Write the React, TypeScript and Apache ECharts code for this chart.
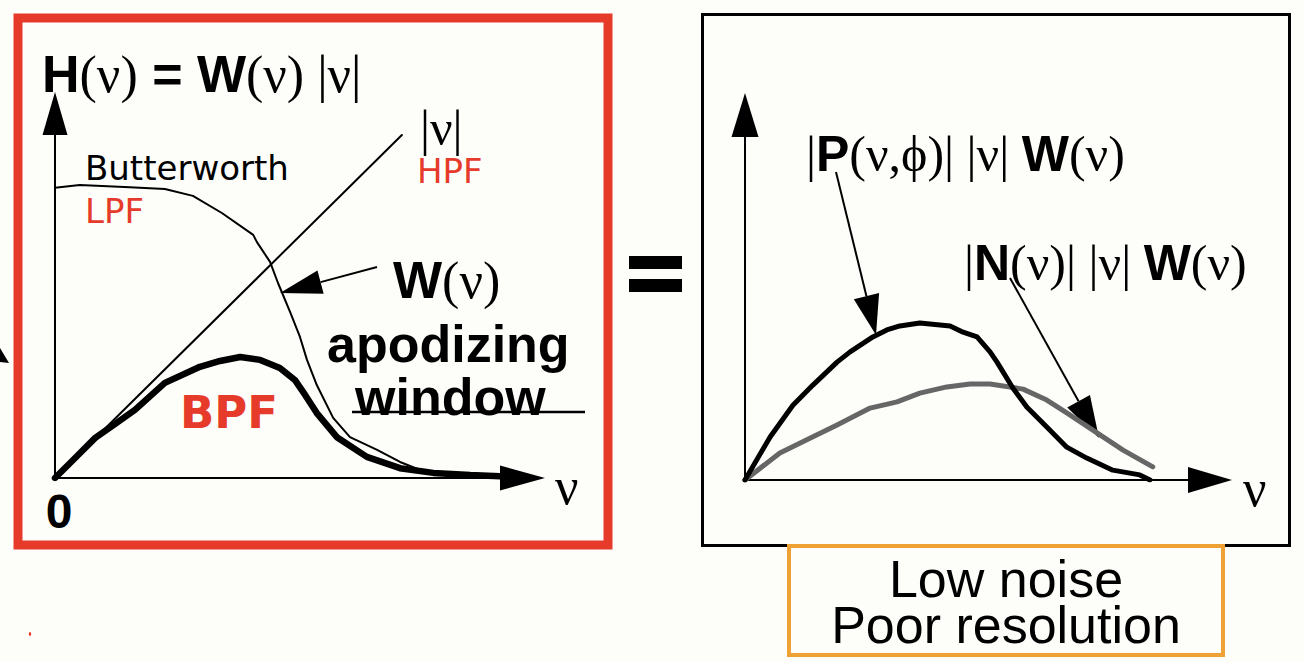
import React, { useEffect, useRef } from 'react';
import * as echarts from 'echarts';

// ---- Left panel: H(ν) = W(ν)|ν|  (units: ν 0..10, amplitude 0..10)
const hpfNu = [0, 7.42];
const hpfAmp = [0, 9.41];
const lpfNu = [0, 0.53, 1.6, 2.35, 2.95, 3.57, 4.24, 4.32, 4.6, 4.77, 5.03, 5.24, 5.39, 5.6, 5.95, 6.31, 6.89, 7.38, 7.81, 8.45, 9.09];
const lpfAmp = [7.96, 8.04, 7.98, 7.93, 7.74, 7.27, 6.67, 6.47, 5.93, 5.35, 4.55, 3.87, 3.24, 2.55, 1.65, 1.12, 0.77, 0.44, 0.22, 0.08, 0.03];
const bpfNu = [0, 0.43, 0.86, 1.28, 1.71, 2.35, 3.1, 3.53, 3.96, 4.39, 4.81, 5.13, 5.35, 5.6, 6.03, 6.67, 7.38, 8.09, 8.88, 9.52];
const bpfAmp = [0, 0.55, 1.1, 1.48, 1.87, 2.61, 3.05, 3.21, 3.32, 3.24, 3.02, 2.69, 2.28, 1.78, 1.12, 0.58, 0.27, 0.14, 0.08, 0.05];

// ---- Right panel: projection and noise spectra
const projNu = [0, 0.54, 1.03, 1.46, 1.98, 2.26, 2.75, 3.05, 3.33, 3.76, 4.41, 4.69, 4.99, 5.27, 5.42, 5.76, 6.06, 6.49, 6.92, 7.35, 7.91, 8.49, 8.71];
const projAmp = [0, 1.18, 2.05, 2.6, 3.23, 3.51, 3.92, 4.11, 4.22, 4.3, 4.22, 4.05, 3.92, 3.51, 3.23, 2.52, 2.0, 1.45, 0.9, 0.6, 0.27, 0.14, 0.0];
const noiseNu = [0, 0.75, 1.33, 1.98, 2.69, 3.27, 3.76, 4.34, 4.84, 5.27, 5.98, 6.49, 6.92, 7.57, 8.13, 8.77];
const noiseAmp = [0, 0.74, 1.1, 1.51, 1.97, 2.14, 2.38, 2.55, 2.63, 2.63, 2.49, 2.19, 1.84, 1.29, 0.82, 0.36];

const RED = '#e63b2a';
const ORANGE = '#f0a133';
const SANS = 'Liberation Sans, Arial, sans-serif';
const SERIF = 'Liberation Serif, Times New Roman, serif';
const DEJA = 'DejaVu Sans, Verdana, sans-serif';

const zip = (xs: number[], ys: number[]) => xs.map((x, i) => [x, ys[i]]);

function axisPair(gridIndex: number, xArrow: number[], yArrow: number[]) {
  const common = {
    type: 'value' as const,
    min: 0,
    max: 10,
    gridIndex,
    axisTick: { show: false },
    axisLabel: { show: false },
    splitLine: { show: false },
  };
  return {
    x: { ...common, axisLine: { show: true, symbol: ['none', 'triangle'], symbolSize: xArrow, lineStyle: { color: '#000', width: 2 } } },
    y: { ...common, axisLine: { show: true, symbol: ['none', 'triangle'], symbolSize: yArrow, lineStyle: { color: '#000', width: 2 } } },
  };
}

function lineSeries(name: string, data: number[][], idx: number, color: string, width: number) {
  return {
    name,
    type: 'line',
    xAxisIndex: idx,
    yAxisIndex: idx,
    data,
    showSymbol: false,
    symbol: 'none',
    smooth: false,
    lineStyle: { color, width, cap: 'round', join: 'round' },
    silent: true,
  };
}

function arrow(x0: number, y0: number, tx: number, ty: number, len: number, half: number) {
  const dx = tx - x0, dy = ty - y0;
  const L = Math.hypot(dx, dy);
  const ux = dx / L, uy = dy / L;
  const bx = tx - ux * len, by = ty - uy * len;
  const px = -uy * half, py = ux * half;
  return [
    { type: 'line', shape: { x1: x0, y1: y0, x2: bx, y2: by }, style: { stroke: '#000', lineWidth: 2 } },
    { type: 'polygon', shape: { points: [[tx, ty], [bx + px, by + py], [bx - px, by - py]] }, style: { fill: '#000' } },
  ];
}

function txt(x: number, y: number, text: string, rich: any, extra: any = {}) {
  return { type: 'text', x, y, z: 50, style: { text, rich, verticalAlign: 'middle', align: 'left', ...extra } };
}

export default function App() {
  const ref = useRef<HTMLDivElement>(null);
  useEffect(() => {
    if (!ref.current) return;
    const chart = echarts.init(ref.current, null, { renderer: 'svg' });
    const left = axisPair(0, [25, 45], [25, 43]);
    const right = axisPair(1, [26, 44], [27, 44]);

    const mathRich = (fs: number) => ({
      b: { fontFamily: SANS, fontWeight: 'bold', fontSize: fs, fill: '#000' },
      s: { fontFamily: SERIF, fontSize: fs, fill: '#000' },
    });

    const graphic: any[] = [
      // frames
      { type: 'rect', shape: { x: 18, y: 18, width: 590, height: 527 }, style: { fill: 'none', stroke: RED, lineWidth: 9 }, z: 1 },
      { type: 'rect', shape: { x: 702.5, y: 14.5, width: 587, height: 531 }, style: { fill: 'none', stroke: '#000', lineWidth: 3 }, z: 1 },
      { type: 'rect', shape: { x: 789, y: 546, width: 434, height: 109 }, style: { fill: '#fdfdfa', stroke: ORANGE, lineWidth: 4 }, z: 2 },
      // equals sign
      { type: 'rect', shape: { x: 629, y: 256, width: 53, height: 13 }, style: { fill: '#000' } },
      { type: 'rect', shape: { x: 629, y: 279, width: 53, height: 13 }, style: { fill: '#000' } },
      // stray fragments on the left margin
      { type: 'polygon', shape: { points: [[0, 348], [9, 363], [0, 362]] }, style: { fill: '#000' } },
      { type: 'ellipse', shape: { cx: 30, cy: 634, rx: 1.2, ry: 2 }, style: { fill: RED } },
      // strike line under "window"
      { type: 'line', shape: { x1: 352, y1: 412, x2: 585, y2: 412 }, style: { stroke: '#000', lineWidth: 2.5 } },
      // annotation arrows
      ...arrow(377, 267, 280, 293, 42, 12),
      ...arrow(836, 172, 876, 335, 40, 13),
      ...arrow(1010, 278, 1099, 438, 42, 13),
      // texts
      txt(42, 74, '{b|H}{s|(ν)}{b| = W}{s|(ν) |ν|}', mathRich(52)),
      txt(420, 128, '{s||ν|}', mathRich(50)),
      txt(417, 171, 'HPF', null, { fontFamily: DEJA, fontSize: 34, fill: RED }),
      txt(85, 168, 'Butterworth', null, { fontFamily: DEJA, fontSize: 34, fill: '#000' }),
      txt(85, 211, 'LPF', null, { fontFamily: DEJA, fontSize: 34, fill: RED }),
      txt(393, 280, '{b|W}{s|(ν)}', mathRich(52)),
      txt(327, 344, 'apodizing', null, { fontFamily: SANS, fontWeight: 'bold', fontSize: 52, fill: '#000' }),
      txt(355, 397, 'window', null, { fontFamily: SANS, fontWeight: 'bold', fontSize: 52, fill: '#000' }),
      txt(180, 412, 'BPF', null, { fontFamily: DEJA, fontWeight: 'bold', fontSize: 45, fill: RED }),
      txt(59, 511, '0', null, { fontFamily: SANS, fontWeight: 'bold', fontSize: 48, fill: '#000', align: 'center' }),
      txt(555, 486, 'ν', null, { fontFamily: SERIF, fontSize: 52, fill: '#000' }),
      txt(1243, 488, 'ν', null, { fontFamily: SERIF, fontSize: 52, fill: '#000' }),
      txt(806, 154, '{s||}{b|P}{s|(ν,ϕ)| |ν| }{b|W}{s|(ν)}', mathRich(50)),
      txt(964, 263, '{s||}{b|N}{s|(ν)| |ν| }{b|W}{s|(ν)}', mathRich(50)),
      txt(1006, 602, 'Low noise\nPoor resolution', null, { fontFamily: SANS, fontSize: 52, lineHeight: 46, fill: '#000', align: 'center' }),
    ];

    chart.setOption({
      animation: false,
      backgroundColor: '#fdfdfa',
      grid: [
        { left: 55, top: 113.5, width: 467.5, height: 364.5 },
        { left: 745, top: 115, width: 465, height: 365 },
      ],
      xAxis: [left.x, right.x],
      yAxis: [left.y, right.y],
      series: [
        lineSeries('|ν| HPF', zip(hpfNu, hpfAmp), 0, '#000', 2),
        lineSeries('Butterworth LPF', zip(lpfNu, lpfAmp), 0, '#000', 2),
        lineSeries('BPF', zip(bpfNu, bpfAmp), 0, '#000', 6.5),
        lineSeries('|N(ν)| |ν| W(ν)', zip(noiseNu, noiseAmp), 1, '#666666', 5),
        lineSeries('|P(ν,ϕ)| |ν| W(ν)', zip(projNu, projAmp), 1, '#000', 5),
      ],
      graphic,
    });
    return () => chart.dispose();
  }, []);
  return <div ref={ref} style={{ position: 'absolute', left: 0, top: 0, width: 1304, height: 662 }} />;
}
